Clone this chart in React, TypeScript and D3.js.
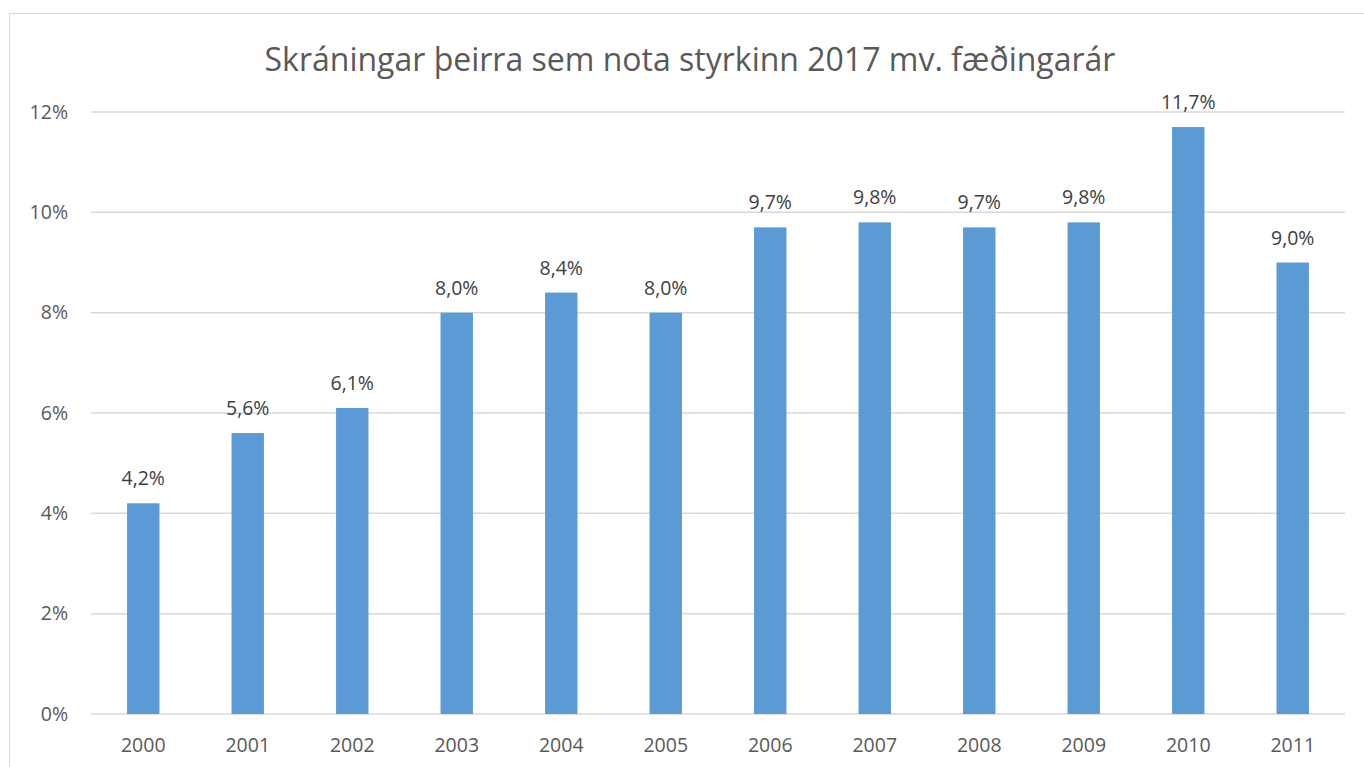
import * as d3 from 'd3'
import React from 'react'

const years = ['2000', '2001', '2002', '2003', '2004', '2005', '2006', '2007', '2008', '2009', '2010', '2011']
const shares = [4.2, 5.6, 6.1, 8.0, 8.4, 8.0, 9.7, 9.8, 9.7, 9.8, 11.7, 9.0]
const yTicks = [0, 2, 4, 6, 8, 10, 12]
const title = 'Skráningar þeirra sem nota styrkinn 2017 mv. fæðingarár'

const W = 1364
const H = 767
const margin = { top: 112, right: 19, bottom: 53, left: 91 }
const font = '"Open Sans", "Noto Sans", sans-serif'

const fmt = (v: number) => v.toFixed(1).replace('.', ',') + '%'

export default function App() {
    const x = React.useMemo(
        () => d3.scaleBand().domain(years).range([margin.left, W - margin.right]).paddingInner(0.69).paddingOuter(0.345),
        []
    )
    const y = React.useMemo(() => d3.scaleLinear().domain([0, 12]).range([H - margin.bottom, margin.top]), [])

    return (
        <svg
            width={W}
            height={H}
            style={{ position: 'absolute', left: 0, top: 0, background: '#fff' }}
        >
            <rect x={9.5} y={13.5} width={W} height={H} fill="#fff" stroke="#d9d9d9" />
            <text x={690} y={71} textAnchor="middle" fontFamily={font} fontSize={32} fill="#595959">
                {title}
            </text>
            {yTicks.map((t) => (
                <g key={t}>
                    <line x1={margin.left} x2={W - margin.right} y1={y(t)} y2={y(t)} stroke="#d9d9d9" strokeWidth={1.5} />
                    <text x={68} y={y(t)} dy="0.35em" textAnchor="end" fontFamily={font} fontSize={19.5} fill="#595959">
                        {t}%
                    </text>
                </g>
            ))}
            {years.map((yr, i) => (
                <g key={yr}>
                    <rect
                        x={x(yr)}
                        y={y(shares[i])}
                        width={x.bandwidth()}
                        height={y(0) - y(shares[i])}
                        fill="#5b9bd5"
                    />
                    <text
                        x={(x(yr) ?? 0) + x.bandwidth() / 2}
                        y={y(shares[i]) - 18}
                        textAnchor="middle"
                        fontFamily={font}
                        fontSize={19.5}
                        fill="#404040"
                    >
                        {fmt(shares[i])}
                    </text>
                    <text
                        x={(x(yr) ?? 0) + x.bandwidth() / 2}
                        y={752}
                        textAnchor="middle"
                        fontFamily={font}
                        fontSize={19.5}
                        fill="#595959"
                    >
                        {yr}
                    </text>
                </g>
            ))}
        </svg>
    )
}
